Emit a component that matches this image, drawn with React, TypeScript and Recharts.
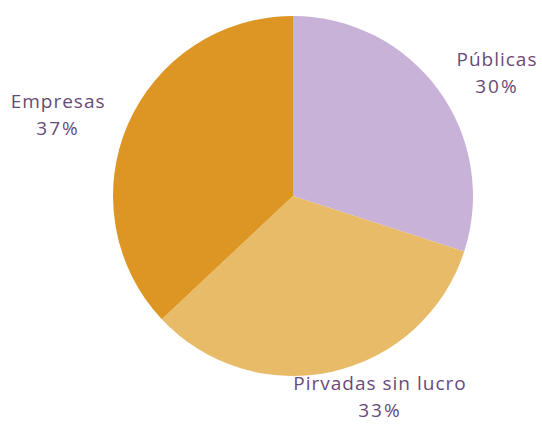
import { Cell, Pie, PieChart } from "recharts";

const sectors = ["Públicas", "Pirvadas sin lucro", "Empresas"];
const shares = [30, 33, 37];
const colors = ["#c8b2d8", "#e8bb68", "#dd9624"];

// small hand nudges so each label sits where the original put it
const nudges: Record<string, [number, number]> = {
  "Públicas": [26, 5],
  "Pirvadas sin lucro": [39, -15],
  "Empresas": [-33, 5],
};

const data = sectors.map((name, i) => ({ name, value: shares[i] }));

const RAD = Math.PI / 180;

function renderLabel(props: any) {
  const { cx, cy, midAngle, outerRadius, name, value } = props;
  const r = outerRadius + 40;
  const [dx, dy] = nudges[name] || [0, 0];
  const x = cx + r * Math.cos(-midAngle * RAD) + dx;
  const y = cy + r * Math.sin(-midAngle * RAD) + dy;
  return (
    <text
      x={x}
      y={y}
      fill="#6a4a78"
      textAnchor="middle"
      fontFamily="Open Sans, sans-serif"
      fontSize={19}
      letterSpacing={1}
    >
      <tspan x={x} dy={-6}>{name}</tspan>
      <tspan x={x} dy={27} letterSpacing={2}>{value}%</tspan>
    </text>
  );
}

export default function App() {
  return (
    <div style={{ position: "absolute", left: 0, top: 0 }}>
      <PieChart width={542} height={430}>
        <Pie
          data={data}
          dataKey="value"
          nameKey="name"
          cx={288}
          cy={191}
          outerRadius={180}
          startAngle={90}
          endAngle={-270}
          stroke="none"
          label={renderLabel}
          labelLine={false}
          isAnimationActive={false}
        >
          {data.map((d, i) => (
            <Cell key={d.name} fill={colors[i]} />
          ))}
        </Pie>
      </PieChart>
    </div>
  );
}
